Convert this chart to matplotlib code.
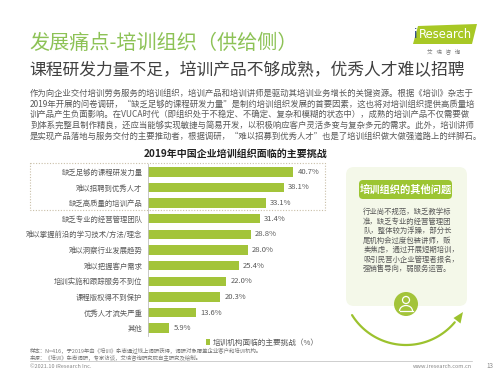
import matplotlib
matplotlib.use("Agg")
import numpy as np
import matplotlib.pyplot as plt
from matplotlib.patches import Rectangle, FancyBboxPatch, Circle, Polygon, Arc

plt.rcParams['font.family'] = ['Noto Sans CJK SC', 'DejaVu Sans']

# data
categories = ['缺乏足够的课程研发力量', '难以招聘到优秀人才', '缺乏高质量的培训产品',
              '缺乏专业的经营管理团队', '难以掌握前沿的学习技术/方法/理念', '难以洞察行业发展趋势',
              '难以把握客户需求', '培训实施和跟踪服务不到位', '课程版权得不到保护',
              '优秀人才流失严重', '其他']
values = [40.7, 38.1, 33.1, 31.4, 28.8, 28.0, 25.4, 22.0, 20.3, 13.6, 5.9]
series_name = '培训机构面临的主要挑战（%）'

title = '发展痛点-培训组织（供给侧）'
subtitle = '课程研发力量不足，培训产品不够成熟，优秀人才难以招聘'
paragraph = [
    '作为向企业交付培训劳务服务的培训组织，培训产品和培训讲师是驱动其培训业务增长的关键资源。根据《培训》杂志于',
    '2019年开展的问卷调研，“缺乏足够的课程研发力量”是制约培训组织发展的首要因素，这也将对培训组织提供高质量培',
    '训产品产生负面影响。在VUCA时代（即组织处于不稳定、不确定、复杂和模糊的状态中），成熟的培训产品不仅需要做',
    '到体系完整且制作精良，还应当能够实现敏捷与简易开发，以积极响应客户灵活多变与复杂多元的需求。此外，培训讲师',
    '是实现产品落地与服务交付的主要推动者，根据调研，“难以招募到优秀人才”也是了培训组织做大做强道路上的绊脚石。',
]
chart_title = '2019年中国企业培训组织面临的主要挑战'
side_title = '培训组织的其他问题'
side_lines = ['行业尚不规范，缺乏教学标', '准，缺乏专业的经营管理团', '队，整体较为浮躁，部分长',
              '尾机构会过度包装讲师，贩', '卖焦虑，通过开展短期培训，', '吸引民营小企业管理者报名，',
              '强销售导向，弱服务运营。']
note1 = '样本：N=416，于2019年由《培训》杂志通过线上调研获得，调研对象覆盖企业客户和培训机构。'
note2 = '来源：《培训》杂志调研，专家访谈，艾瑞咨询研究院自主研究及绘制。'

green = '#a3c43a'
title_green = '#8dc256'
gray = '#595959'

fig = plt.figure(figsize=(5, 3.75), dpi=100)

# overlay in pixel coordinates
ov = fig.add_axes([0, 0, 1, 1], zorder=0)
ov.set_xlim(0, 500)
ov.set_ylim(375, 0)
ov.axis('off')

ov.text(29, 43, title, fontsize=14.5, color=title_green, va='center', ha='left')
ov.text(29, 71, subtitle, fontsize=12.1, color='#404040', va='center', ha='left')

# logo
ov.add_patch(Polygon([[418, 26], [477, 24], [472, 44], [413, 44]], closed=True,
                     facecolor='#a8c825', edgecolor='none'))
ov.text(414, 35, 'i', fontsize=9, color='#1f3c88', va='center', ha='left', family='DejaVu Sans')
ov.text(419, 35, 'Research', fontsize=8.3, color='white', va='center', ha='left', family='DejaVu Sans')
ov.text(444, 51, '艾   瑞   咨   询', fontsize=4, color='#777777', va='center', ha='center')

for i, line in enumerate(paragraph):
    ov.text(30, 93 + i * 10.8, line, fontsize=6.0, color=gray, va='center', ha='left')

ov.text(236, 154, chart_title, fontsize=7.2, color='#222222', weight='bold', va='center', ha='center')

# dotted highlight box
ov.add_patch(Rectangle((30, 163), 295, 47, fill=False, edgecolor='#c9bfa8',
                       linestyle=(0, (1, 1.5)), linewidth=0.8))

# side panel
ov.add_patch(FancyBboxPatch((349, 170), 115, 133, boxstyle='round,pad=3,rounding_size=8',
                            facecolor='#f4f8e9', edgecolor='none'))
ov.add_patch(FancyBboxPatch((359, 180), 93, 19, boxstyle='round,pad=0,rounding_size=4',
                            facecolor='#9cc532', edgecolor='none'))
ov.text(405.5, 189.5, side_title, fontsize=7.4, color='white', weight='bold', va='center', ha='center')
for i, line in enumerate(side_lines):
    ov.text(363, 212 + i * 9.5, line, fontsize=5.3, color=gray, va='center', ha='left')

# icon
ov.add_patch(Circle((406, 304), 12, facecolor='#a3c43a', edgecolor='none'))
ov.add_patch(Circle((406, 300), 3.5, fill=False, edgecolor='white', linewidth=0.9))
ov.add_patch(Arc((406, 311), 13, 11, theta1=180, theta2=360, edgecolor='white', linewidth=0.9))
ov.plot([399.5, 412.5], [311, 311], color='white', linewidth=0.9)

# curved arrow below the panel
theta = np.radians(np.linspace(148, 40, 60))
ov.plot(406 + 63.6 * np.cos(theta), 281.4 + 63.6 * np.sin(theta), color='#9cc22e',
        linewidth=1.6, solid_capstyle='round', zorder=5)
ov.add_patch(Polygon([[463, 312], [453.5, 318], [460.5, 323.5]], closed=True,
                     facecolor='#9cc22e', edgecolor='none', zorder=5))

# footer
ov.text(30, 351, note1, fontsize=3.9, color='#777777', va='center', ha='left')
ov.text(30, 357.5, note2, fontsize=3.9, color='#777777', va='center', ha='left')
ov.plot([30, 472], [361, 361], color='#bbbbbb', linewidth=0.5)
ov.text(30, 366, '©2021.10 iResearch Inc.', fontsize=4, color='#888888', va='center', ha='left')
ov.text(472, 366, 'www.iresearch.com.cn', fontsize=4, color='#888888', va='center', ha='right')
ov.text(490, 366, '13', fontsize=4.5, color='#888888', va='center', ha='center')

# bar chart
ax = fig.add_axes([148 / 500, 1 - 336 / 375, 180 / 500, 172 / 375], zorder=1)
ax.patch.set_alpha(0)
ypos = list(range(len(categories)))
bars = ax.barh(ypos, values, height=0.6, color=green, label=series_name)
ax.set_xlim(0, 50.5)
ax.set_ylim(len(categories) - 0.5, -0.5)
ax.set_yticks(ypos)
ax.set_yticklabels(categories, fontsize=5.3, color=gray)
ax.tick_params(axis='y', length=0, pad=4)
ax.set_xticks([])
for s in ['top', 'right', 'bottom']:
    ax.spines[s].set_visible(False)
ax.spines['left'].set_color('#bfbfbf')
ax.spines['left'].set_linewidth(0.6)
for b, v in zip(bars, values):
    ax.text(v + 1.2, b.get_y() + b.get_height() / 2, f'{v:.1f}%', fontsize=5.5,
            color=gray, va='center', ha='left')
ax.legend(loc='upper left', bbox_to_anchor=(0.3, 0.005), frameon=False, fontsize=5.5,
          handlelength=0.5, handleheight=0.9, handletextpad=0.4, borderpad=0, labelcolor=gray)

fig.savefig('out.png', dpi=100, facecolor='white')
